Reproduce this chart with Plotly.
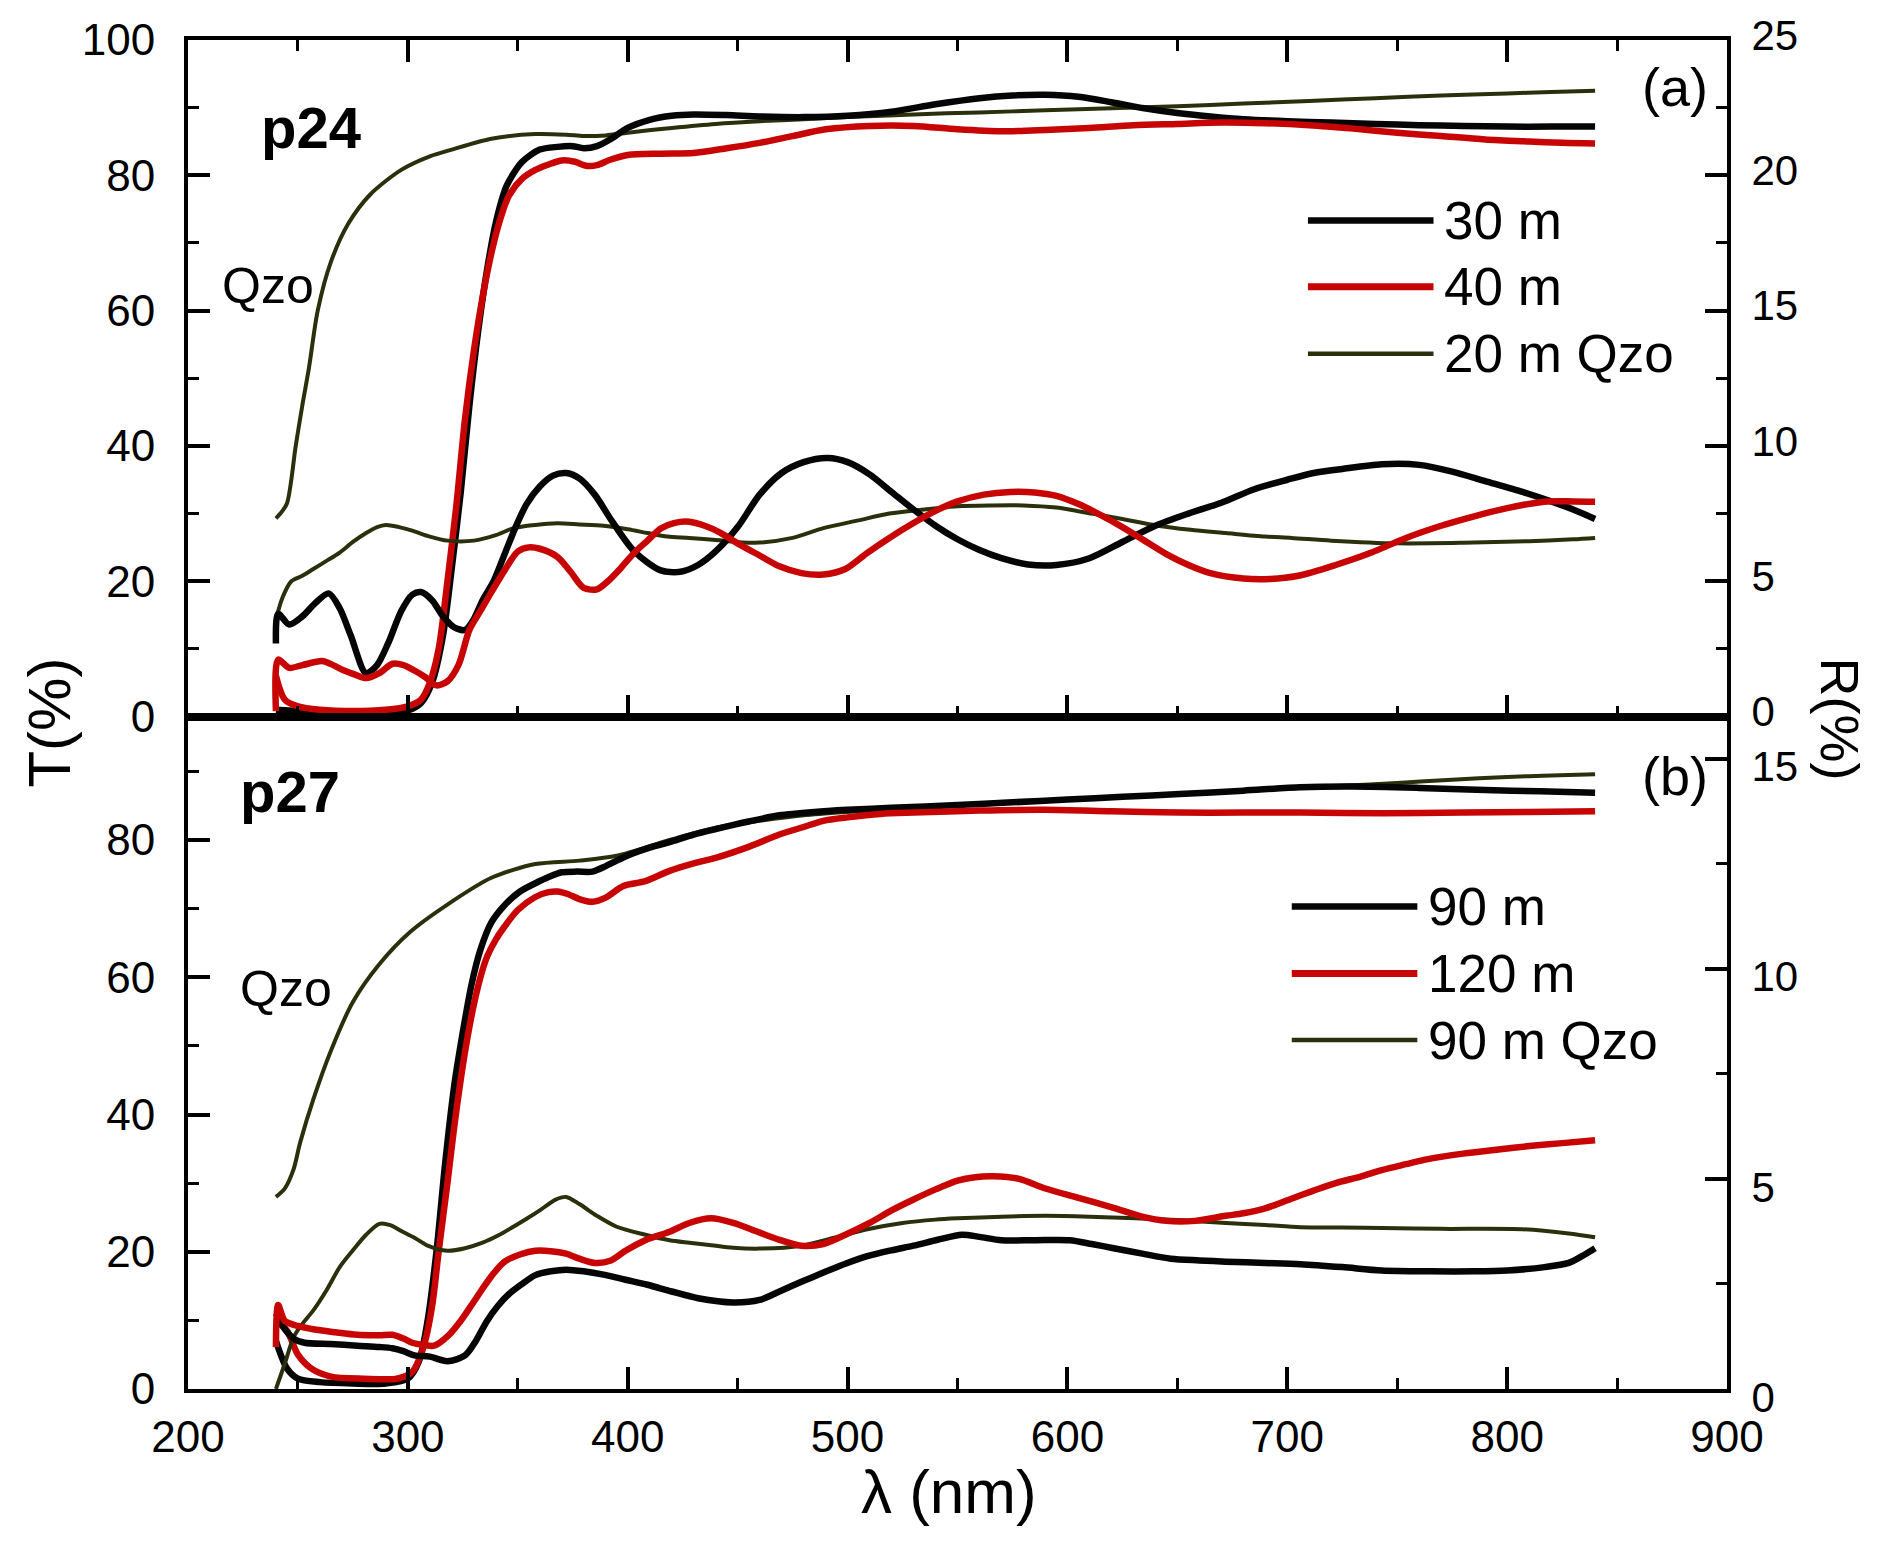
import plotly.graph_objects as go

# ---------------- p24 (panel a) ----------------
# transmittance, 30 m film
p24_t30_nm = [240, 250, 260, 275, 290, 300, 306, 311, 316, 320, 324, 328, 332, 336, 340, 345, 352, 360,
              368, 375, 380, 386, 392, 400, 410, 420, 430, 445, 460, 480, 500, 520, 540, 560, 575, 590,
              605, 620, 635, 650, 665, 680, 700, 720, 740, 760, 780, 800, 820, 840]
p24_t30 = [1.0, 0.8, 0.6, 0.5, 0.6, 0.9, 2, 5, 12, 22, 33, 46, 57, 66, 73, 78.5, 82, 83.8,
           84.2, 84.3, 84, 84.3, 85.3, 87, 88.2, 88.8, 89, 88.9, 88.7, 88.6, 88.8, 89.4, 90.5, 91.4, 91.8, 91.9,
           91.6, 90.8, 89.9, 89.2, 88.7, 88.3, 88, 87.8, 87.6, 87.4, 87.3, 87.2, 87.2, 87.2]

# transmittance, 40 m film
p24_t40_nm = [240, 244, 250, 260, 275, 290, 300, 306, 310, 314, 318, 322, 326, 330, 334, 338, 342, 346,
              352, 358, 364, 370, 376, 381, 386, 392, 400, 415, 430, 445, 460, 475, 490, 510, 530, 550,
              570, 590, 610, 630, 650, 670, 690, 710, 730, 750, 770, 790, 810, 825, 840]
p24_t40 = [6, 2.5, 1.5, 1.0, 0.8, 1.0, 1.5, 2.5, 5, 10, 20, 31, 44, 54, 62, 68.5, 73.5, 77,
           79.5, 80.8, 81.6, 82.2, 82.0, 81.4, 81.5, 82.3, 83, 83.2, 83.3, 84, 84.8, 85.8, 86.8, 87.3, 87.3, 86.8,
           86.5, 86.7, 87, 87.4, 87.6, 87.8, 87.7, 87.4, 86.9, 86.3, 85.8, 85.3, 85.0, 84.8, 84.7]

# transmittance, 20 m film on quartz
p24_tq_nm = [240, 242, 245, 249, 252, 255, 259, 265, 273, 283, 297, 310, 320, 338, 358, 372, 380, 390,
             400, 420, 440, 460, 480, 500, 530, 560, 590, 620, 650, 680, 710, 740, 770, 800, 820, 840]
p24_tq = [29.3, 30, 31.5, 40, 46, 51.5, 60, 67.2, 72.9, 77.2, 80.8, 82.8, 83.8, 85.4, 86.1, 86.0, 85.8, 85.9,
          86.3, 87.0, 87.6, 88.0, 88.3, 88.6, 89.0, 89.3, 89.6, 89.9, 90.2, 90.6, 91.0, 91.4, 91.8, 92.1, 92.3, 92.5]

# reflectance, 30 m film
p24_r30_nm = [240, 241, 246, 252, 258, 264, 269, 274, 281, 286, 291, 297, 302, 306, 311, 316, 321, 326,
              330, 334, 339, 344, 349, 354, 360, 366, 372, 378, 385, 393, 403, 415, 424, 432, 440, 450,
              460, 470, 480, 491, 500, 510, 520, 530, 540, 550, 560, 570, 582, 595, 610, 625, 640, 655,
              670, 685, 700, 712, 725, 743, 760, 775, 790, 807, 820, 830, 840]
p24_r30 = [2.7, 3.8, 3.4, 3.7, 4.2, 4.55, 4.0, 3.0, 1.6, 1.9, 2.7, 3.9, 4.5, 4.6, 4.3, 3.7, 3.3, 3.2,
           3.6, 4.3, 5.0, 6.0, 7.0, 7.85, 8.5, 8.9, 9.0, 8.8, 8.2, 7.2, 6.1, 5.4, 5.35, 5.6, 6.1, 7.0,
           8.2, 9.0, 9.4, 9.55, 9.4, 8.95, 8.3, 7.65, 7.05, 6.55, 6.15, 5.85, 5.62, 5.6, 5.85, 6.45, 7.05, 7.5,
           7.9, 8.4, 8.75, 9.0, 9.15, 9.32, 9.3, 9.05, 8.7, 8.3, 7.95, 7.65, 7.3]

# reflectance, 40 m film
p24_r40_nm = [240, 241, 246, 252, 261, 266, 271, 276, 281, 287, 293, 298, 303, 308, 313, 318, 323, 328,
              333, 338, 344, 350, 355, 360, 368, 374, 380, 386, 391, 397, 403, 409, 415, 421, 428, 435,
              442, 450, 460, 469, 479, 489, 499, 509, 519, 530, 540, 550, 562, 574, 585, 595, 605, 615,
              625, 635, 645, 655, 665, 680, 692, 705, 722, 738, 754, 770, 785, 800, 817, 830, 840]
p24_r40 = [0.2, 2.1, 1.8, 1.9, 2.05, 1.9, 1.7, 1.55, 1.42, 1.6, 1.95, 1.9, 1.7, 1.45, 1.15, 1.3, 1.9, 3.2,
           3.9, 4.6, 5.4, 6.1, 6.25, 6.2, 5.9, 5.35, 4.75, 4.7, 5.0, 5.5, 6.05, 6.5, 6.95, 7.15, 7.2, 7.05,
           6.8, 6.4, 5.95, 5.55, 5.3, 5.25, 5.45, 6.05, 6.6, 7.15, 7.6, 7.95, 8.2, 8.3, 8.28, 8.15, 7.85, 7.45,
           7.0, 6.5, 6.0, 5.6, 5.3, 5.1, 5.08, 5.2, 5.6, 6.05, 6.6, 7.05, 7.4, 7.7, 7.94, 7.95, 7.94]

# reflectance, 20 m film on quartz
p24_rq_nm = [240, 243, 247, 252, 257, 263, 269, 275, 281, 286, 290, 296, 302, 310, 318, 330, 340, 348,
             358, 368, 378, 389, 400, 409, 418, 428, 440, 458, 475, 489, 505, 519, 535, 550, 565, 580,
             595, 611, 625, 641, 656, 672, 690, 702, 720, 750, 780, 810, 830, 840]
p24_rq = [3.6, 4.4, 5.0, 5.2, 5.45, 5.75, 6.06, 6.45, 6.78, 7.0, 7.08, 7.0, 6.87, 6.65, 6.5, 6.5, 6.7, 6.96,
          7.08, 7.14, 7.1, 7.05, 6.92, 6.78, 6.65, 6.6, 6.52, 6.42, 6.6, 6.96, 7.25, 7.5, 7.65, 7.77, 7.8, 7.8,
          7.72, 7.5, 7.3, 7.05, 6.9, 6.78, 6.65, 6.6, 6.5, 6.4, 6.42, 6.48, 6.55, 6.6]

# ---------------- p27 (panel b) ----------------
# transmittance, 90 m film
p27_t90_nm = [240, 245, 250, 260, 275, 290, 300, 305, 309, 313, 317, 321, 325, 329, 333, 338, 344, 351,
              358, 364, 370, 377, 384, 390, 395, 402, 410, 419, 430, 440, 455, 469, 485, 500, 520, 550,
              575, 600, 625, 651, 680, 706, 730, 760, 790, 815, 840]
p27_t90 = [7, 3, 1.5, 1.0, 0.8, 0.8, 1.5, 4, 10, 20, 33, 44, 52, 59, 64, 68, 70.5, 72.5,
           73.7, 74.6, 75.3, 75.4, 75.4, 76.2, 77, 78, 78.9, 79.7, 80.8, 81.6, 82.7, 83.6, 84.1, 84.4, 84.7, 85.1,
           85.5, 85.9, 86.3, 86.7, 87.2, 87.7, 87.8, 87.6, 87.3, 87.1, 86.9]

# transmittance, 120 m film
p27_t120_nm = [240, 245, 250, 256, 265, 280, 295, 302, 307, 311, 314, 318, 321, 324, 327, 330, 333, 336,
               340, 344, 350, 358, 364, 368, 373, 378, 384, 390, 398, 408, 419, 430, 440, 455, 469, 480,
               489, 500, 515, 530, 560, 590, 620, 651, 680, 706, 743, 780, 810, 840]
p27_t120 = [10, 8.5, 5, 3, 1.8, 1.5, 1.5, 2.5, 6, 12, 20, 30, 38, 45, 51, 56, 60, 63,
            65.5, 67.4, 69.8, 71.7, 72.4, 72.5, 72.1, 71.4, 71, 71.6, 73.3, 74, 75.5, 76.6, 77.4, 79, 80.8, 81.9,
            82.8, 83.3, 83.8, 84, 84.3, 84.4, 84.2, 84.0, 84.0, 84.0, 83.9, 84.0, 84.1, 84.2]

# transmittance, 90 m film on quartz
p27_tq_nm = [240, 244, 248, 251, 257, 265, 275, 287, 301, 318, 338, 358, 378, 395, 419, 440, 460, 480,
             500, 525, 550, 575, 600, 625, 650, 675, 700, 725, 750, 775, 800, 820, 840]
p27_tq = [28, 29.2, 32, 35.9, 42.2, 49.3, 56.4, 61.9, 66.6, 70.6, 74.5, 76.5, 77, 77.7, 80, 81.8, 82.8, 83.6,
          84.1, 84.6, 85.1, 85.5, 85.9, 86.3, 86.7, 87.1, 87.5, 87.9, 88.3, 88.8, 89.2, 89.4, 89.6]

# reflectance, 90 m film
p27_r90_nm = [240, 243, 248, 253, 265, 277, 287, 293, 298, 303, 310, 318, 326, 331, 336, 341, 346, 352,
              358, 365, 372, 380, 389, 399, 409, 420, 432, 448, 460, 469, 479, 489, 499, 509, 520, 530,
              541, 552, 560, 570, 585, 601, 611, 621, 634, 647, 660, 672, 690, 706, 725, 743, 765, 785,
              800, 817, 828, 834, 840]
p27_r90 = [1.8, 1.5, 1.2, 1.1, 1.07, 1.03, 1.0, 0.97, 0.9, 0.8, 0.77, 0.66, 0.8, 1.15, 1.62, 1.98, 2.26, 2.5,
           2.71, 2.8, 2.84, 2.8, 2.72, 2.6, 2.48, 2.32, 2.16, 2.06, 2.12, 2.32, 2.55, 2.77, 2.98, 3.16, 3.3, 3.41,
           3.55, 3.67, 3.62, 3.54, 3.54, 3.54, 3.45, 3.35, 3.22, 3.1, 3.06, 3.03, 3.0, 2.97, 2.9, 2.82, 2.8, 2.8,
           2.82, 2.9, 3.0, 3.16, 3.35]

# reflectance, 120 m film
p27_r120_nm = [240, 241, 244, 250, 257, 267, 277, 287, 293, 298, 302, 307, 312, 318, 324, 329, 334, 339,
               344, 351, 358, 365, 372, 378, 385, 392, 399, 408, 419, 428, 438, 448, 459, 469, 479, 489,
               499, 510, 520, 530, 540, 550, 558, 566, 578, 590, 605, 621, 634, 645, 658, 672, 680, 690,
               701, 712, 722, 733, 743, 754, 764, 780, 796, 810, 825, 840]
p27_r120 = [1.0, 2.0, 1.62, 1.5, 1.42, 1.35, 1.29, 1.28, 1.29, 1.2, 1.1, 1.05, 1.03, 1.25, 1.62, 2.0, 2.39, 2.75,
            3.03, 3.2, 3.29, 3.28, 3.22, 3.1, 3.0, 3.05, 3.29, 3.54, 3.74, 3.95, 4.06, 3.95, 3.74, 3.55, 3.41, 3.45,
            3.67, 3.95, 4.25, 4.51, 4.75, 4.96, 5.04, 5.06, 5.0, 4.77, 4.55, 4.31, 4.1, 4.0, 4.0, 4.12, 4.18, 4.3,
            4.51, 4.72, 4.9, 5.05, 5.21, 5.35, 5.47, 5.6, 5.7, 5.78, 5.85, 5.92]

# reflectance, 90 m film on quartz
p27_rq_nm = [240, 244, 248, 252, 257, 263, 269, 275, 281, 287, 292, 297, 303, 309, 318, 326, 334, 341,
             348, 354, 360, 367, 372, 378, 386, 395, 408, 419, 428, 438, 448, 460, 479, 494, 509, 525,
             540, 550, 570, 590, 610, 631, 650, 672, 690, 706, 725, 743, 770, 807, 828, 840]
p27_rq = [0.0, 0.6, 1.23, 1.55, 1.87, 2.35, 2.9, 3.3, 3.67, 3.93, 3.9, 3.76, 3.6, 3.41, 3.29, 3.35, 3.48, 3.65,
          3.86, 4.05, 4.25, 4.5, 4.57, 4.4, 4.12, 3.86, 3.67, 3.54, 3.48, 3.42, 3.36, 3.34, 3.41, 3.6, 3.8, 3.95,
          4.03, 4.06, 4.1, 4.12, 4.1, 4.06, 4.02, 3.95, 3.9, 3.85, 3.84, 3.83, 3.81, 3.8, 3.7, 3.61]

legend_a = ["30 m", "40 m", "20 m Qzo"]
legend_b = ["90 m", "120 m", "90 m Qzo"]

BLACK = "#050505"
RED = "#c80505"
OLIVE = "#2a300c"
FONT = "Liberation Sans, Arial, Helvetica, sans-serif"

fig = go.Figure()


def add_line(x, y, color, width, xa, ya):
    fig.add_trace(go.Scatter(x=x, y=y, mode="lines", xaxis=xa, yaxis=ya,
                             line=dict(color=color, width=width, shape="spline", smoothing=0.8),
                             showlegend=False, hoverinfo="skip"))


# panel a
add_line(p24_rq_nm, p24_rq, OLIVE, 4, "x", "y2")
add_line(p24_r30_nm, p24_r30, BLACK, 6.5, "x", "y2")
add_line(p24_r40_nm, p24_r40, RED, 6.5, "x", "y2")
add_line(p24_tq_nm, p24_tq, OLIVE, 4, "x", "y")
add_line(p24_t30_nm, p24_t30, BLACK, 6.5, "x", "y")
add_line(p24_t40_nm, p24_t40, RED, 6.5, "x", "y")

# panel b
add_line(p27_rq_nm, p27_rq, OLIVE, 4, "x2", "y4")
add_line(p27_r90_nm, p27_r90, BLACK, 6.5, "x2", "y4")
add_line(p27_r120_nm, p27_r120, RED, 6.5, "x2", "y4")
add_line(p27_tq_nm, p27_tq, OLIVE, 4, "x2", "y3")
add_line(p27_t90_nm, p27_t90, BLACK, 6.5, "x2", "y3")
add_line(p27_t120_nm, p27_t120, RED, 6.5, "x2", "y3")

SPLIT = 0.4985
common = dict(showline=True, linewidth=4, linecolor="black", ticks="inside", ticklen=22,
              tickwidth=4, tickcolor="black", showgrid=False, zeroline=False, automargin=False)
left_font = dict(family=FONT, size=44, color="black")
right_font = dict(family=FONT, size=42, color="black")


def minor(dt):
    return dict(dtick=dt, ticks="inside", ticklen=11, tickwidth=3, tickcolor="black", showgrid=False)


fig.update_layout(
    width=1879, height=1547,
    margin=dict(l=188, r=152, t=40, b=158),
    paper_bgcolor="white", plot_bgcolor="white",
    font=dict(family=FONT, color="black"),
    showlegend=False,
    xaxis=dict(domain=[0, 1], anchor="y", range=[200, 900], tick0=200, dtick=100,
               showticklabels=False, mirror="ticks", minor=minor(50), tickfont=left_font, **common),
    xaxis2=dict(domain=[0, 1], anchor="y3", range=[200, 900], tick0=200, dtick=100,
                mirror=True, minor=minor(50), ticklabelstandoff=6, tickfont=left_font, **common),
    yaxis=dict(domain=[SPLIT, 1], anchor="x", range=[0, 100], dtick=20, minor=minor(10),
               ticklabelstandoff=20, tickfont=left_font, **common),
    yaxis2=dict(overlaying="y", side="right", anchor="x", range=[0, 25], dtick=5,
                minor=minor(2.5), ticklabelstandoff=12, ticklabelshift=-5, tickfont=right_font, **common),
    yaxis3=dict(domain=[0, SPLIT], anchor="x2", range=[0, 98], dtick=20, minor=minor(10),
                ticklabelstandoff=20, tickfont=left_font, **common),
    yaxis4=dict(overlaying="y3", side="right", anchor="x2", range=[0, 16], dtick=5,
                minor=minor(2.5), ticklabelstandoff=12, ticklabelshift=8, tickfont=right_font, **common),
)

ann = []
# axis titles
ann.append(dict(text="T(%)", xref="paper", yref="paper", x=-0.0897, y=0.494, textangle=-90,
                showarrow=False, font=dict(family=FONT, size=60), xanchor="center", yanchor="middle"))
ann.append(dict(text="R(%)", xref="paper", yref="paper", x=1.0735, y=0.497, textangle=90,
                showarrow=False, font=dict(family=FONT, size=54), xanchor="center", yanchor="middle"))
ann.append(dict(text="λ (nm)", xref="paper", yref="paper", x=0.4945, y=-0.076,
                showarrow=False, font=dict(family=FONT, size=62), xanchor="center", yanchor="middle"))

# panel labels
panel_text = [("<b>p24</b>", "x domain", "y domain", 0.0799, 0.870, 58),
              ("Qzo", "x domain", "y domain", 0.052, 0.637, 50),
              ("(a)", "x domain", "y domain", 0.9662, 0.9306, 54),
              ("<b>p27</b>", "x2 domain", "y3 domain", 0.0663, 0.888, 58),
              ("Qzo", "x2 domain", "y3 domain", 0.0637, 0.595, 50),
              ("(b)", "x2 domain", "y3 domain", 0.9662, 0.911, 54)]
for t, xr, yr, x, y, s in panel_text:
    ann.append(dict(text=t, xref=xr, yref=yr, x=x, y=y, showarrow=False,
                    font=dict(family=FONT, size=s), xanchor="center", yanchor="middle"))

# hand-drawn legends
shapes = []
styles = [(BLACK, 6.5), (RED, 7), (OLIVE, 4.5)]
leg_a_y = [0.7332, 0.6352, 0.5362]
leg_b_y = [0.7174, 0.6177, 0.5188]
for (col, w), y, lab in zip(styles, leg_a_y, legend_a):
    shapes.append(dict(type="line", xref="x domain", yref="y domain", x0=0.7277, x1=0.8093,
                       y0=y, y1=y, line=dict(color=col, width=w)))
    ann.append(dict(text=lab, xref="x domain", yref="y domain", x=0.8150, y=y, showarrow=False,
                    font=dict(family=FONT, size=53), xanchor="left", yanchor="middle"))
for (col, w), y, lab in zip(styles, leg_b_y, legend_b):
    shapes.append(dict(type="line", xref="x2 domain", yref="y3 domain", x0=0.7172, x1=0.7988,
                       y0=y, y1=y, line=dict(color=col, width=w)))
    ann.append(dict(text=lab, xref="x2 domain", yref="y3 domain", x=0.8045, y=y, showarrow=False,
                    font=dict(family=FONT, size=53), xanchor="left", yanchor="middle"))

fig.update_layout(annotations=ann, shapes=shapes)
fig.write_html("out.html")
